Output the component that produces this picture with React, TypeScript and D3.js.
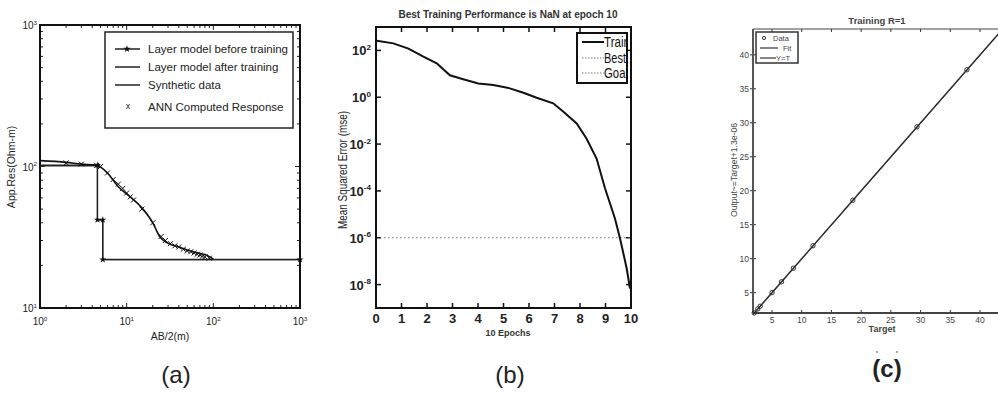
import React, { useEffect, useRef } from "react";
import * as d3 from "d3";

// ---- (a) resistivity sounding ----
const layerBeforeAB = [1, 4.6, 4.6, 5.3, 5.3, 1000];
const layerBeforeRes = [102, 102, 42, 42, 22, 22];
const layerAfterAB = [1, 4.6, 4.6, 5.3, 5.3, 1000];
const layerAfterRes = [101, 101, 42, 42, 22, 22];
const synthAB = [1, 2, 3, 4.5, 5, 6, 8, 11, 15, 20, 24, 29, 40, 58, 85, 100];
const synthRes = [110, 107, 104, 102, 99, 90, 72, 61, 51, 40, 32, 29, 27, 25, 23.5, 22.2];
const annAB = [2, 3, 4.5, 5, 6, 7, 8, 9, 10, 11, 12, 15, 20, 25, 28, 32, 36, 40, 45, 50, 55, 60, 65, 70, 75, 80, 90];
const annRes = [106, 104, 102, 100, 90, 81, 75, 70, 65, 61, 58, 50, 40, 32, 30, 28.5, 27.5, 27, 26, 25.3, 25, 24.5, 24, 23.7, 23.3, 23, 22.5];
const legendA = [
  "Layer model before training",
  "Layer model after training",
  "Synthetic data",
  "ANN Computed Response",
];

// ---- (b) training performance ----
const epochs = [0.03, 0.68, 1.27, 1.86, 2.38, 2.9, 3.42, 4.01, 4.6, 5.25, 5.78, 6.3, 6.95, 7.35, 7.87, 8.26, 8.65, 8.98, 9.37, 9.57, 9.83, 9.96];
const trainMse = [260, 200, 120, 54, 28, 8.7, 5.9, 3.9, 3.3, 2.4, 1.55, 0.95, 0.55, 0.24, 0.076, 0.017, 0.0024, 1.3e-4, 6.6e-6, 9.3e-7, 5e-8, 6.8e-9];
const goalMse = 1e-6;
const epochTicks = [0, 1, 2, 3, 4, 5, 6, 7, 8, 9, 10];
const mseExponents = [2, 0, -2, -4, -6, -8];
const legendB = ["Train", "Best", "Goal"];

// ---- (c) regression ----
const targets = [2.0, 2.6, 3.0, 5.0, 6.6, 8.6, 11.9, 18.6, 29.4, 37.8];
const outputs = [2.0, 2.6, 3.0, 5.0, 6.6, 8.6, 11.9, 18.6, 29.4, 37.8];
const fitEnds = [1.8, 43.2];
const regTicks = [5, 10, 15, 20, 25, 30, 35, 40];

const SANS = "'Liberation Sans', Arial, sans-serif";

function pow10(sel: any, exp: number | string, size: number) {
  sel.append("tspan").text("10");
  sel
    .append("tspan")
    .attr("dy", -size * 0.42)
    .attr("font-size", size * 0.62)
    .text(String(exp));
}

const isDecade = (t: number) => Math.abs(Math.log10(t) - Math.round(Math.log10(t))) < 1e-9;

function drawSounding(svg: any) {
  const x = d3.scaleLog().domain([1, 1000]).range([40, 300]);
  const y = d3.scaleLog().domain([10, 1000]).range([308, 25]);
  const g = svg.append("g").attr("font-family", SANS);

  // minor / major log ticks, inward, all four sides
  x.ticks().forEach((t) => {
    const len = isDecade(t) ? 5 : 3;
    g.append("line").attr("x1", x(t)).attr("x2", x(t)).attr("y1", 308).attr("y2", 308 - len).attr("stroke", "#222");
    g.append("line").attr("x1", x(t)).attr("x2", x(t)).attr("y1", 25).attr("y2", 25 + len).attr("stroke", "#222");
    if (isDecade(t)) {
      const lab = g.append("text").attr("x", x(t)).attr("y", 325).attr("text-anchor", "middle").attr("font-size", 10).attr("fill", "#222");
      pow10(lab, Math.round(Math.log10(t)), 10);
    }
  });
  y.ticks().forEach((t) => {
    const len = isDecade(t) ? 5 : 3;
    g.append("line").attr("x1", 40).attr("x2", 40 + len).attr("y1", y(t)).attr("y2", y(t)).attr("stroke", "#222");
    g.append("line").attr("x1", 300).attr("x2", 300 - len).attr("y1", y(t)).attr("y2", y(t)).attr("stroke", "#222");
    if (isDecade(t)) {
      const lab = g.append("text").attr("x", 37).attr("y", y(t) + 4).attr("text-anchor", "end").attr("font-size", 10).attr("fill", "#222");
      pow10(lab, Math.round(Math.log10(t)), 10);
    }
  });

  g.append("rect").attr("x", 40).attr("y", 25).attr("width", 260).attr("height", 283)
    .attr("fill", "none").attr("stroke", "#111").attr("stroke-width", 2);

  const line = d3.line<[number, number]>().x((d) => x(d[0])).y((d) => y(d[1]));

  g.append("path").datum(layerAfterAB.map((v, i) => [v, layerAfterRes[i]]))
    .attr("d", line).attr("fill", "none").attr("stroke", "#333").attr("stroke-width", 1.2);
  g.append("path").datum(layerBeforeAB.map((v, i) => [v, layerBeforeRes[i]]))
    .attr("d", line).attr("fill", "none").attr("stroke", "#222").attr("stroke-width", 1.4);
  const star = d3.symbol().type(d3.symbolStar).size(16);
  layerBeforeAB.forEach((v, i) => {
    if (i === 0) return;
    g.append("path").attr("d", star).attr("transform", `translate(${x(v)},${y(layerBeforeRes[i])})`).attr("fill", "#111");
  });

  g.append("path").datum(synthAB.map((v, i) => [v, synthRes[i]]))
    .attr("d", line.curve(d3.curveMonotoneX)).attr("fill", "none").attr("stroke", "#111").attr("stroke-width", 1.6);

  const cross = d3.symbol().type(d3.symbolX).size(18);
  annAB.forEach((v, i) => {
    g.append("path").attr("d", cross).attr("transform", `translate(${x(v)},${y(annRes[i])})`)
      .attr("fill", "none").attr("stroke", "#111").attr("stroke-width", 1);
  });

  // legend
  g.append("rect").attr("x", 105).attr("y", 32).attr("width", 188).attr("height", 96)
    .attr("fill", "#fff").attr("stroke", "#222").attr("stroke-width", 1.5);
  const rows = [49, 67, 85, 107];
  legendA.forEach((label, i) => {
    const ry = rows[i];
    if (i < 3) {
      g.append("line").attr("x1", 115).attr("x2", 140).attr("y1", ry).attr("y2", ry).attr("stroke", "#222").attr("stroke-width", 1.5);
    }
    if (i === 0) g.append("path").attr("d", star).attr("transform", `translate(127,${ry})`).attr("fill", "#111");
    if (i === 3) {
      g.append("text").attr("x", 128).attr("y", ry + 2).attr("text-anchor", "middle").attr("font-size", 9).attr("fill", "#222").text("x");
    }
    g.append("text").attr("x", 148).attr("y", ry + 4).attr("font-size", 11.5).attr("fill", "#222").text(label);
  });

  g.append("text").attr("x", 170).attr("y", 340).attr("text-anchor", "middle").attr("font-size", 10.5).attr("fill", "#222").text("AB/2(m)");
  g.append("text").attr("transform", "translate(15,167) rotate(-90)").attr("text-anchor", "middle")
    .attr("font-size", 10.5).attr("fill", "#222").text("App.Res(Ohm-m)");
  g.append("text").attr("x", 176).attr("y", 383).attr("text-anchor", "middle").attr("font-size", 24).attr("fill", "#222").text("(a)");
}

function drawPerformance(svg: any) {
  const x = d3.scaleLinear().domain([0, 10]).range([376, 631]);
  const y = d3.scaleLog().domain([1e-9, 1e3]).range([308, 27]);
  const g = svg.append("g").attr("font-family", SANS);

  g.append("text").attr("x", 508).attr("y", 18).attr("text-anchor", "middle").attr("font-size", 10)
    .attr("font-weight", "bold").attr("fill", "#333").text("Best Training Performance is NaN at epoch 10");

  epochTicks.forEach((t) => {
    g.append("line").attr("x1", x(t)).attr("x2", x(t)).attr("y1", 308).attr("y2", 303).attr("stroke", "#111").attr("stroke-width", 1.5);
    g.append("line").attr("x1", x(t)).attr("x2", x(t)).attr("y1", 27).attr("y2", 32).attr("stroke", "#111").attr("stroke-width", 1.5);
    g.append("text").attr("x", x(t)).attr("y", 323).attr("text-anchor", "middle").attr("font-size", 13)
      .attr("font-weight", "bold").attr("fill", "#222").text(t);
  });
  mseExponents.forEach((e) => {
    const v = Math.pow(10, e);
    g.append("line").attr("x1", 376).attr("x2", 381).attr("y1", y(v)).attr("y2", y(v)).attr("stroke", "#111").attr("stroke-width", 1.5);
    g.append("line").attr("x1", 631).attr("x2", 626).attr("y1", y(v)).attr("y2", y(v)).attr("stroke", "#111").attr("stroke-width", 1.5);
    const lab = g.append("text").attr("x", 371).attr("y", y(v) + 5).attr("text-anchor", "end").attr("font-size", 13)
      .attr("font-weight", "bold").attr("fill", "#222");
    pow10(lab, e, 13);
  });

  g.append("line").attr("x1", x(0)).attr("x2", x(10)).attr("y1", y(goalMse)).attr("y2", y(goalMse))
    .attr("stroke", "#777").attr("stroke-width", 1.2).attr("stroke-dasharray", "1.5,2.5");

  const line = d3.line<[number, number]>().x((d) => x(d[0])).y((d) => y(d[1]));
  g.append("path").datum(epochs.map((v, i) => [v, trainMse[i]]))
    .attr("d", line).attr("fill", "none").attr("stroke", "#111").attr("stroke-width", 2);

  g.append("rect").attr("x", 376).attr("y", 27).attr("width", 255).attr("height", 281)
    .attr("fill", "none").attr("stroke", "#111").attr("stroke-width", 2);

  // legend (text squeezed to look condensed, cut at the box edge)
  svg.append("clipPath").attr("id", "legb").append("rect").attr("x", 577).attr("y", 33).attr("width", 50).attr("height", 50);
  g.append("rect").attr("x", 577).attr("y", 33).attr("width", 50).attr("height", 50)
    .attr("fill", "#fff").attr("stroke", "#111").attr("stroke-width", 2);
  const lg = g.append("g").attr("clip-path", "url(#legb)");
  const rows = [42, 58, 73];
  const widths = [26, 22, 24];
  legendB.forEach((label, i) => {
    const ry = rows[i];
    lg.append("line").attr("x1", 582).attr("x2", 604).attr("y1", ry).attr("y2", ry)
      .attr("stroke", i === 0 ? "#111" : "#777").attr("stroke-width", i === 0 ? 2 : 1.2)
      .attr("stroke-dasharray", i === 0 ? null : "1.5,1.5");
    lg.append("text").attr("x", 604).attr("y", ry + 5).attr("font-size", 14).attr("fill", "#111")
      .attr("textLength", widths[i]).attr("lengthAdjust", "spacingAndGlyphs").text(label);
  });

  g.append("text").attr("x", 508).attr("y", 336).attr("text-anchor", "middle").attr("font-size", 9)
    .attr("font-weight", "bold").attr("fill", "#333").text("10 Epochs");
  g.append("text").attr("transform", "translate(347,170) rotate(-90)").attr("text-anchor", "middle")
    .attr("font-size", 13).attr("fill", "#222")
    .attr("textLength", 118).attr("lengthAdjust", "spacingAndGlyphs").text("Mean Squared Error (mse)");
  g.append("text").attr("x", 510).attr("y", 383).attr("text-anchor", "middle").attr("font-size", 24).attr("fill", "#222").text("(b)");
}

function drawRegression(svg: any) {
  const x = d3.scaleLinear().domain([1.8, 43.2]).range([753, 999]);
  const y = d3.scaleLinear().domain([2, 43.8]).range([313, 29]);
  const g = svg.append("g").attr("font-family", SANS);

  g.append("text").attr("x", 877).attr("y", 24).attr("text-anchor", "middle").attr("font-size", 9.5)
    .attr("font-weight", "bold").attr("fill", "#444").text("Training R=1");

  g.append("line").attr("x1", 753).attr("x2", 998).attr("y1", 29).attr("y2", 29).attr("stroke", "#444").attr("stroke-width", 1.2);

  regTicks.forEach((t) => {
    g.append("line").attr("x1", x(t)).attr("x2", x(t)).attr("y1", 313).attr("y2", 310).attr("stroke", "#333");
    g.append("line").attr("x1", x(t)).attr("x2", x(t)).attr("y1", 29).attr("y2", 32).attr("stroke", "#333");
    g.append("text").attr("x", x(t)).attr("y", 323).attr("text-anchor", "middle").attr("font-size", 8.5)
      .attr("fill", "#444").text(t);
    g.append("line").attr("x1", 750).attr("x2", 756).attr("y1", y(t)).attr("y2", y(t)).attr("stroke", "#333");
    g.append("text").attr("x", 749).attr("y", y(t) + 3).attr("text-anchor", "end").attr("font-size", 8.5)
      .attr("fill", "#444").text(t);
  });

  g.append("line").attr("x1", 753).attr("x2", 753).attr("y1", 29).attr("y2", 313).attr("stroke", "#555").attr("stroke-width", 2);
  g.append("line").attr("x1", 753).attr("x2", 998).attr("y1", 313).attr("y2", 313).attr("stroke", "#444").attr("stroke-width", 2);

  const line = d3.line<number>().x((d) => x(d)).y((d) => y(d));
  g.append("path").datum(fitEnds).attr("d", line).attr("fill", "none").attr("stroke", "#222").attr("stroke-width", 1.3);
  g.append("path").datum(fitEnds).attr("d", line).attr("fill", "none").attr("stroke", "#333").attr("stroke-width", 0.8)
    .attr("transform", "translate(0.6,0)");

  targets.forEach((t, i) => {
    g.append("circle").attr("cx", x(t)).attr("cy", y(outputs[i])).attr("r", 2.2)
      .attr("fill", "none").attr("stroke", "#222").attr("stroke-width", 0.9);
  });

  // legend
  g.append("rect").attr("x", 756).attr("y", 32).attr("width", 42).attr("height", 31)
    .attr("fill", "#fff").attr("stroke", "#333").attr("stroke-width", 1.5);
  g.append("circle").attr("cx", 764).attr("cy", 38).attr("r", 1.6).attr("fill", "none").attr("stroke", "#333");
  g.append("text").attr("x", 773).attr("y", 41).attr("font-size", 7.5).attr("fill", "#444").text("Data");
  g.append("line").attr("x1", 760).attr("x2", 778).attr("y1", 48).attr("y2", 48).attr("stroke", "#333").attr("stroke-width", 1.2);
  g.append("text").attr("x", 783).attr("y", 51).attr("font-size", 7.5).attr("fill", "#444").text("Fit");
  g.append("line").attr("x1", 760).attr("x2", 776).attr("y1", 58).attr("y2", 58).attr("stroke", "#333").attr("stroke-width", 1.2);
  g.append("text").attr("x", 776).attr("y", 61).attr("font-size", 7.5).attr("fill", "#444").text("Y=T");

  g.append("text").attr("x", 882).attr("y", 332).attr("text-anchor", "middle").attr("font-size", 9)
    .attr("font-weight", "bold").attr("fill", "#444").text("Target");
  g.append("text").attr("transform", "translate(737,170) rotate(-90)").attr("text-anchor", "middle")
    .attr("font-size", 9).attr("fill", "#444")
    .attr("textLength", 94).attr("lengthAdjust", "spacingAndGlyphs").text("Output~=Target+1.3e-06");

  g.append("text").attr("x", 887).attr("y", 377).attr("text-anchor", "middle").attr("font-size", 24)
    .attr("font-weight", "bold").attr("fill", "#222").text("(c)");
  // two small specks above the caption
  [877, 897].forEach((sx) => {
    g.append("line").attr("x1", sx - 1).attr("x2", sx + 1).attr("y1", 352).attr("y2", 352).attr("stroke", "#555").attr("stroke-width", 1);
  });
}

export default function App() {
  const svgRef = useRef<SVGSVGElement>(null);

  useEffect(() => {
    if (!svgRef.current) return;
    const svg = d3.select(svgRef.current);
    svg.selectAll("*").remove();
    drawSounding(svg);
    drawPerformance(svg);
    drawRegression(svg);
  }, []);

  return (
    <svg
      ref={svgRef}
      width={998}
      height={394}
      style={{ position: "absolute", left: 0, top: 0, background: "#fff" }}
    />
  );
}
